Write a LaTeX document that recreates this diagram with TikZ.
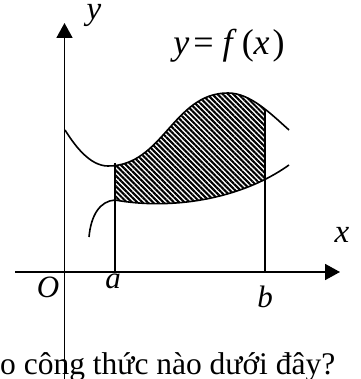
\documentclass[tikz,border=0pt]{standalone}
\usepackage{fontspec}
\setmainfont{Liberation Serif}
\usetikzlibrary{arrows.meta,patterns.meta}
\begin{document}
\begin{tikzpicture}[x=1pt,y=-1pt,
  axis/.style={line width=1.8pt,-{Triangle[length=15pt,width=16pt]}},
  curve/.style={line width=1.6pt},
  vline/.style={line width=1.4pt},
  lbl/.style={inner sep=0pt,anchor=base,font=\fontsize{31}{36}\selectfont\itshape},
  hatch/.style={pattern={Lines[angle=-45,distance=3.7pt,line width=2.1pt]}}]
\useasboundingbox (0,0) rectangle (360,379);
% bottom text
\node[inner sep=0pt,anchor=base west,font=\fontsize{31.5}{36}\selectfont] (txt) at (0,374) {o công thức nào dưới đây?};
% hatched region
\begin{scope}
\clip (115,0) rectangle (265,379);
\fill[hatch] (65,130) .. controls (75,146) and (90,166) .. (108,166)
  .. controls (163,166) and (173,93) .. (228,93)
  .. controls (250,93) and (270,113) .. (289,130)
  -- (289,165) .. controls (240,200) and (170,210) .. (115,200)
  .. controls (100,201) and (91,215) .. (89,237) -- cycle;
\end{scope}
% curves
\draw[curve] (65,130) .. controls (75,146) and (90,166) .. (108,166)
  .. controls (163,166) and (173,93) .. (228,93)
  .. controls (250,93) and (270,113) .. (289,130);
\draw[curve] (89,237) .. controls (91,215) and (100,201) .. (115,200)
  .. controls (170,210) and (240,200) .. (289,165);
% vertical lines
\coordinate (aTop) at (115,163);
\coordinate (aBot) at (115,272);
\coordinate (bTop) at (265,110);
\coordinate (bBot) at (265,272);
\draw[vline] (aTop) -- (aBot);
\draw[vline] (bTop) -- (bBot);
% axes
\coordinate (xs) at (15,272);
\coordinate (xe) at (340,272);
\coordinate (ys) at (64.5,379);
\coordinate (ye) at (64.5,23);
\draw[axis] (xs) -- (xe);
\draw[axis] (ys) -- (ye);
% labels
\node[lbl,font=\fontsize{33}{36}\selectfont\itshape] (ylab) at (94,20) {y};
\node[lbl] (Olab) at (48,297) {O};
\node[lbl] (alab) at (113,288) {a};
\node[lbl] (blab) at (265,307) {b};
\node[lbl,font=\fontsize{33}{36}\selectfont\itshape] (xlab) at (342,242) {x};
\node[inner sep=0pt,anchor=base,font=\fontsize{36}{40}\selectfont] (func) at (229,55)
  {\textit{y}\hspace{4pt}=\hspace{9pt}\textit{f}\hspace{5pt}(\textit{x}\hspace{3pt})};
\end{tikzpicture}
\end{document}
